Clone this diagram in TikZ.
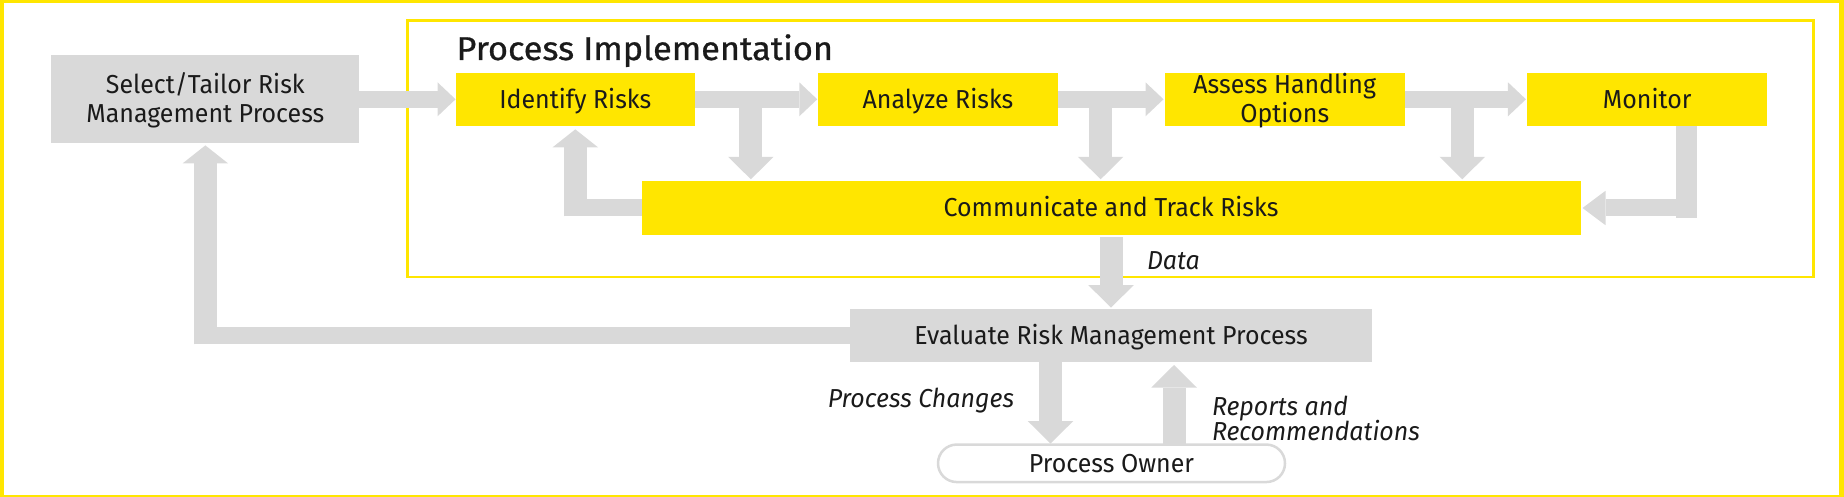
\documentclass[tikz,border=0pt]{standalone}
\usepackage{fontspec}
\setmainfont{Fira Sans}[FakeStretch=0.96]
\newfontfamily\titlefont{Fira Sans}[FakeBold=0.8, FakeStretch=1.04]
\usetikzlibrary{arrows.meta,calc}
\definecolor{eyyellow}{HTML}{FFE600}
\definecolor{eygray}{HTML}{D9D9D9}
\definecolor{txtcol}{HTML}{1A1A1A}
\newcommand{\bodysize}{\fontsize{26pt}{29pt}\selectfont}
\begin{document}
\begin{tikzpicture}[x=1pt,y=-1pt,
  every node/.style={inner sep=0pt, outer sep=0pt, text=txtcol, font=\bodysize},
  ybox/.style={fill=eyyellow, minimum width=239.5pt, minimum height=53.5pt},
  gbox/.style={fill=eygray},
  oneline/.style={text height=17.9pt, text depth=0pt},
  twoline/.style={align=center, text height=46.9pt, text depth=0pt},
  shaftH/.style={draw=eygray, line width=17pt},
  shaftV/.style={draw=eygray, line width=23pt},
  arrH/.style={shaftH, -{Triangle[width=34pt,length=18pt,line width=0pt]}},
  arrV/.style={shaftV, -{Triangle[width=45.5pt,length=22.5pt,line width=0pt]}},
  arrVs/.style={shaftV, -{Triangle[width=45.5pt,length=18pt,line width=0pt]}},
  lbl/.style={font=\bodysize\itshape},
]
\useasboundingbox (0,0) rectangle (1844,497);

% frames
\node[draw=eyyellow, line width=2.7pt, minimum width=1405.4pt, minimum height=256.3pt] (impl) at (1110.5,148.85) {};
\node[anchor=base west, font=\titlefont\fontsize{33pt}{36pt}\selectfont] (title) at (456.5,60) {Process Implementation};

% boxes
\node[gbox, twoline, minimum width=308pt, minimum height=87.6pt] (sel) at (205.35,99.3) {Select/Tailor Risk\\Management Process};
\node[ybox, oneline] (idr) at (575.3,99.3) {Identify Risks};
\node[ybox, oneline] (anr) at (938,99.3) {Analyze Risks};
\node[ybox, twoline] (ass) at (1284.75,99.3) {Assess Handling\\Options};
\node[ybox, oneline] (mon) at (1647.2,99.3) {Monitor};
\node[ybox, oneline, minimum width=939pt, minimum height=54pt] (comm) at (1111,208) {Communicate and Track Risks};
\node[gbox, oneline, minimum width=522pt, minimum height=53pt] (eval) at (1111,335.8) {Evaluate Risk Management Process};
\node[draw=eygray, line width=2.5pt, fill=white, rounded corners=18.7pt, oneline, minimum width=347pt, minimum height=37.5pt] (owner) at (1111.5,463.3) {Process Owner};

% labels
\node[lbl, anchor=base west] (data) at (1147,269) {Data};
\node[lbl, anchor=base east] (pchg) at (1014,407.7) {Process Changes};
\node[lbl, anchor=base west] (rep1) at (1212,415) {Reports and};
\node[lbl, anchor=base west] (rep2) at (1212,440) {Recommendations};

% top row arrows
\draw[arrH] (sel.east) -- (idr.west);
\draw[arrH, shorten >=1pt] (idr.east) -- (anr.west);
\draw[arrH, shorten >=1.5pt] (anr.east) -- (ass.west);
\draw[arrH, shorten >=1.5pt] (ass.east) -- (mon.west);

% T stems down to Communicate
\coordinate (t1) at ($(idr.east)!0.453!(anr.west)$);
\coordinate (t2) at ($(anr.east)!0.40!(ass.west)$);
\coordinate (t3) at ($(ass.east)!0.47!(mon.west)$);
\foreach \t in {t1,t2,t3} \draw[arrV, shorten >=1.7pt] (\t) -- (\t |- comm.north);

% return to Identify
\coordinate (c1) at (idr.south |- comm.west);
\draw[shaftH] (comm.west) -- ([xshift=-11.7pt]c1);
\draw[arrVs, shorten >=3.3pt] ([yshift=-8.5pt]c1) -- (idr.south);

% Monitor back to Communicate
\coordinate (m1) at ([xshift=39.3pt]mon.south);
\coordinate (m2) at (m1 |- comm.east);
\draw[shaftV, line width=21pt] (m1) -- ([yshift=-10pt]m2);
\draw[shaftH, -{Triangle[width=34.4pt,length=23pt,line width=0pt]}, shorten >=2pt] ([xshift=10.5pt]m2) -- (comm.east);

% Data
\draw[arrV, shorten <=2pt, shorten >=1.7pt] (comm.south) -- (eval.north);

% Evaluate back to Select
\coordinate (e1) at (sel.south |- eval.west);
\draw[shaftH] (eval.west) -- ([xshift=-11.7pt]e1);
\draw[arrVs, shorten >=2.3pt] ([yshift=-8.5pt]e1) -- (sel.south);

% Process owner loop
\coordinate (p1) at ([xshift=-60.5pt]eval.south);
\draw[arrV, shorten >=1pt] (p1) -- (p1 |- owner.north);
\coordinate (r1) at ([xshift=63pt]eval.south);
\draw[arrV, shorten >=2.7pt] (r1 |- owner.north) -- (r1);

% outer frame
\draw[eyyellow, line width=6pt] (0.5,-0.3) rectangle (1842.3,498);
\end{tikzpicture}
\end{document}
